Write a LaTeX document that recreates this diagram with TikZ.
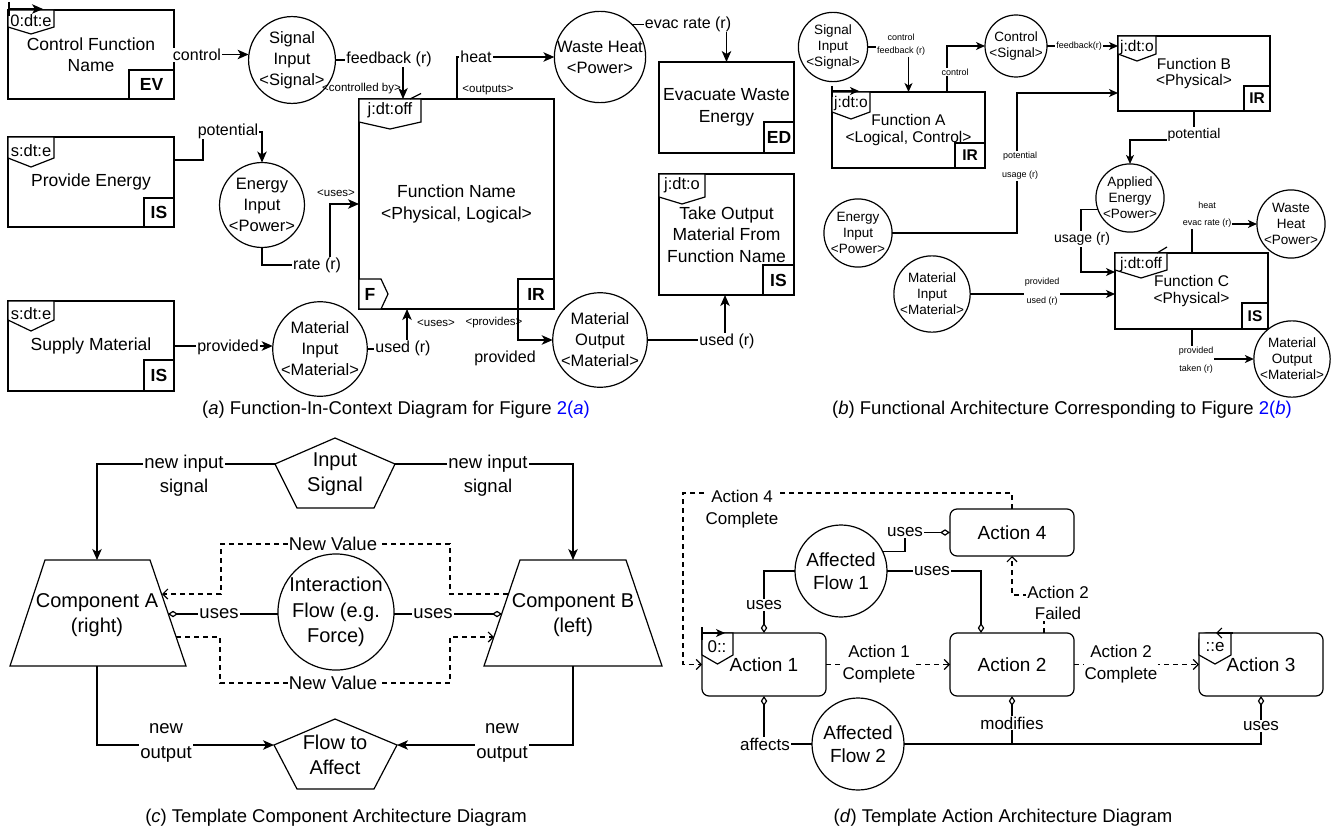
\documentclass[tikz,border=0pt]{standalone}
\usepackage{fontspec}
\setmainfont{Liberation Sans}
\usetikzlibrary{arrows.meta,calc}
\definecolor{lnk}{RGB}{0,0,255}

% font sizes (1pt = one unit of the drawing)
\newcommand\fsBoxA{\fontsize{17.5}{21.5}\selectfont}
\newcommand\fsCircA{\fontsize{16.5}{21}\selectfont}
\newcommand\fsLblA{\fontsize{16}{19}\selectfont}
\newcommand\fsTinyA{\fontsize{11.5}{13}\selectfont}
\newcommand\fsBoxB{\fontsize{15.5}{16.5}\selectfont}
\newcommand\fsCircB{\fontsize{13.5}{16}\selectfont}
\newcommand\fsLblB{\fontsize{14}{16}\selectfont}
\newcommand\fsTinyB{\fontsize{9}{11}\selectfont}
\newcommand\fsNodeC{\fontsize{20}{25.5}\selectfont}
\newcommand\fsLblC{\fontsize{18.5}{24.5}\selectfont}
\newcommand\fsNodeD{\fontsize{19}{23.5}\selectfont}
\newcommand\fsLblD{\fontsize{17}{22}\selectfont}
\newcommand\fsCap{\fontsize{18.5}{22}\selectfont}

% pentagon tab in the top left corner of a block: x, y, width, side, tip depth
\newcommand\tabmark[5]{\draw[ln, fill=white] (#1,#2) -- ++(#3,0) -- ++(0,#4)
  -- ++(-#3/2,#5-#4) -- ++(-#3/2,#4-#5) -- cycle;}

\tikzset{
  ln/.style={line width=1.2pt},
  arr/.style={ln, -{Stealth[length=11pt,width=9.5pt,inset=3pt]}},
  arrs/.style={ln, -{Stealth[length=9pt,width=8pt,inset=2.5pt]}},
  oarr/.style={ln, dash pattern=on 5pt off 4pt, -{Straight Barb[length=5pt,width=10pt]}},
  dia/.style={ln, -{Diamond[open,length=10pt,width=6.5pt]}},
  idia/.style={ln, {Diamond[open,length=10pt,width=6.5pt]}-},
  fbox/.style={draw, ln, inner sep=0pt, outer sep=0pt, anchor=north west, fill=white, align=center},
  subbox/.style={draw, ln, inner sep=0pt, outer sep=0pt, anchor=south east, font=\fsBoxA\bfseries},
  ccirc/.style={draw, ln, circle, inner sep=0pt, outer sep=0pt, align=center, fill=white},
  abox/.style={draw, ln, rounded corners=7pt, inner sep=0pt, outer sep=0pt, anchor=north west, fill=white},
  tnode/.style={inner sep=0pt, align=center},
  elbl/.style={fill=white, inner sep=1pt, align=center},
}

\begin{document}
\begin{tikzpicture}[x=1pt,y=-1pt]
\useasboundingbox (0,0) rectangle (1332,832);

% ================= (a) function in context =================
\node[fbox, minimum width=166, minimum height=89, font=\fsBoxA] (cf) at (8,10) {Control Function\\Name};
\node[subbox, minimum width=45, minimum height=29] (cfEV) at (cf.south east) {EV};
\tabmark{8}{10}{46}{17}{24}
\node[tnode, font=\fsCircA] (cfT) at (31,21) {0:dt:e};
\draw[ln] (9,2) -- (9,16);
\coordinate (cfS) at (9,9);
\draw[arr] (cfS) -- ++(34,0);

\node[fbox, minimum width=166, minimum height=90, font=\fsBoxA] (pe) at (8,137) {Provide Energy};
\node[subbox, minimum width=30, minimum height=29] (peIS) at (pe.south east) {IS};
\tabmark{8}{137}{46}{21}{30}
\node[tnode, font=\fsCircA] (peT) at (31,151) {s:dt:e};

\node[fbox, minimum width=166, minimum height=90, font=\fsBoxA] (sm) at (8,301) {Supply Material};
\node[subbox, minimum width=30, minimum height=31] (smIS) at (sm.south east) {IS};
\tabmark{8}{301}{46}{19}{30}
\node[tnode, font=\fsCircA] (smT) at (31,314) {s:dt:e};

\node[fbox, minimum width=195, minimum height=210, font=\fsBoxA] (fn) at (359,99) {Function Name\\<Physical, Logical>};
\node[subbox, minimum width=36, minimum height=30] (fnIR) at (fn.south east) {IR};
\tabmark{359}{99}{62}{23}{30}
\node[tnode, font=\fsCircA] (fnT) at (390,110) {j:dt:off};
\draw[ln] (421,93.5) -- (410,99);
\draw[ln, fill=white] (359,279) -- (381,279) -- (388,294) -- (381,309) -- (359,309) -- cycle;
\node[tnode, font=\fsBoxA\bfseries] (fnF) at (370,294) {F};

\node[fbox, minimum width=135, minimum height=91, font=\fsBoxA] (ev) at (659,62) {Evacuate Waste\\Energy};
\node[subbox, minimum width=30, minimum height=31] (evED) at (ev.south east) {ED};

\node[fbox, minimum width=135, minimum height=121, font=\fsBoxA] (to) at (659,174) {Take Output\\Material From\\Function Name};
\node[subbox, minimum width=31, minimum height=30] (toIS) at (to.south east) {IS};
\tabmark{659}{174}{46}{23}{30}
\node[tnode, font=\fsCircA] (toT) at (682,185) {j:dt:o};

\node[ccirc, minimum size=74, font=\fsCircA] (si) at (292,60) {Signal\\Input\\<Signal>};
\node[ccirc, minimum size=90, font=\fsCircA] (wh) at (600,57) {Waste Heat\\<Power>};
\node[ccirc, minimum size=75, font=\fsCircA] (ei) at (262,205) {Energy\\Input\\<Power>};
\node[ccirc, minimum size=76, font=\fsCircA] (mi) at (320,349) {Material\\Input\\<Material>};
\node[ccirc, minimum size=90, font=\fsCircA] (mo) at (600,340) {Material\\Output\\<Material>};

\draw[arr] (cf.east) -- (cf.east -| si.west);
\draw[arr] (si.east) -| ($(fn.north west)+(44,0)$);
\draw[arr] ($(fn.north west)+(98,0)$) |- (wh.west);
\draw[arr] (wh.45) -| (ev.north);
\draw[arr] ($(pe.north east)+(0,23)$) -- ++(29,0) -- ++(0,-28) -| (ei.north);
\draw[arr] (ei.south) |- (330,265) |- (fn.west);
\draw[arr] (sm.east) -- (sm.east -| mi.west);
\draw[arr] (mi.east) -| ($(fn.south west)+(48,0)$);
\draw[arr] ($(fn.south west)+(159,0)$) |- (mo.west);
\draw[arr] (mo.east) -| ($(to.south west)+(66,0)$);

\node[elbl, font=\fsLblA] (lControl) at (197,55) {control};
\node[elbl, font=\fsLblA] (lFeedback) at (389,59) {feedback (r)};
\node[tnode, font=\fsTinyA, anchor=east] (lCtrlBy) at (401,89) {<controlled by>};
\node[elbl, font=\fsLblA] (lHeat) at (476,57) {heat};
\node[tnode, font=\fsTinyA] (lOutputs) at (488,90) {<outputs>};
\node[elbl, font=\fsLblA] (lEvac) at (688,24) {evac rate (r)};
\node[elbl, font=\fsLblA] (lPot) at (228,131) {potential};
\node[elbl, font=\fsLblA] (lRate) at (317,265) {rate (r)};
\node[tnode, font=\fsTinyA] (lUsesA) at (336,193) {<uses>};
\node[elbl, font=\fsLblA] (lProv) at (228,347) {provided};
\node[elbl, font=\fsLblA] (lUsed) at (403,348) {used (r)};
\node[tnode, font=\fsTinyA] (lUsesB) at (436,323) {<uses>};
\node[tnode, font=\fsTinyA] (lProvides) at (494,323) {<provides>};
\node[tnode, font=\fsLblA] (lProvOut) at (505,358) {provided};
\node[elbl, font=\fsLblA] (lUsedOut) at (727,341) {used (r)};

\node[tnode, font=\fsCap] (capA) at (396,410) {(\textit{a}) Function-In-Context Diagram for Figure \textcolor{lnk}{2(\textit{a})}};

% ================= (b) functional architecture =================
\node[ccirc, minimum size=64, font=\fsCircB] (si2) at (833,47) {Signal\\Input\\<Signal>};
\node[fbox, minimum width=153, minimum height=76, font=\fsBoxB] (fa) at (832,92) {Function A\\<Logical, Control>};
\node[subbox, font=\fsBoxB\bfseries, minimum width=30, minimum height=25] (faIR) at (fa.south east) {IR};
\tabmark{832}{92}{38}{20}{27}
\node[tnode, font=\fsBoxB] (faT) at (851,103) {j:dt:o};
\draw[ln] (832,86) -- (832,97);
\coordinate (faS) at (832,91);
\draw[arrs] (faS) -- ++(27,0);

\node[ccirc, minimum size=62, font=\fsCircB] (cs) at (1016,46) {Control\\<Signal>};
\node[fbox, minimum width=152, minimum height=75, font=\fsBoxB] (fb) at (1118,36) {Function B\\<Physical>};
\node[subbox, font=\fsBoxB\bfseries, minimum width=26, minimum height=25] (fbIR) at (fb.south east) {IR};
\tabmark{1118}{36}{38}{18}{25}
\node[tnode, font=\fsBoxB] (fbT) at (1137,47) {j:dt:o};

\node[ccirc, minimum size=64, font=\fsCircB] (ei2) at (858,233) {Energy\\Input\\<Power>};
\node[ccirc, minimum size=64, font=\fsCircB] (ae) at (1130,198) {Applied\\Energy\\<Power>};
\node[ccirc, minimum size=74, font=\fsCircB] (mi2) at (932,294) {Material\\Input\\<Material>};
\node[fbox, minimum width=153, minimum height=76, font=\fsBoxB] (fc) at (1115,253) {Function C\\<Physical>};
\node[subbox, font=\fsBoxB\bfseries, minimum width=26, minimum height=26] (fcIS) at (fc.south east) {IS};
\tabmark{1115}{253}{52}{17}{25}
\node[tnode, font=\fsBoxB] (fcT) at (1141,264) {j:dt:off};
\draw[ln] (1167,247) -- (1157,253);
\node[ccirc, minimum size=65, font=\fsCircB] (wh2) at (1291,224) {Waste\\Heat\\<Power>};
\node[ccirc, minimum size=64, font=\fsCircB] (mo2) at (1292,359) {Material\\Output\\<Material>};

\draw[arrs] (si2.east) -| (fa.north);
\draw[arrs] ($(fa.north west)+(115,0)$) |- (cs.west);
\draw[arrs] (cs.east) -- (cs.east -| fb.west);
\coordinate (pu) at (1017,93);
\draw[arrs] (ei2.east) -| (pu) -- (pu -| fb.west);
\draw[arrs] (fb.south) -- ++(0,29) -| (ae.north);
\draw[arrs] (ae.200) -| (1081,272) -- ($(fc.north west)+(0,19)$);
\draw[arrs] (mi2.east) -- (mi2.east -| fc.west);
\draw[arrs] ($(fc.north west)+(77,0)$) |- (wh2.west);
\draw[arrs] ($(fc.south west)+(77,0)$) |- (mo2.west);

\node[elbl, font=\fontsize{9}{13}\selectfont] (lCtlFb) at (901,45) {control\\feedback (r)};
\node[elbl, font=\fsTinyB] (lCtl) at (955,72) {control};
\node[elbl, font=\fsTinyB] (lFbB) at (1079,46) {feedback(r)};
\node[elbl, font=\fontsize{9}{19}\selectfont] (lPotUse) at (1020,166) {potential\\usage (r)};
\node[elbl, font=\fsLblB] (lPotB) at (1194,135) {potential};
\node[elbl, font=\fsLblB] (lUsage) at (1082,239) {usage (r)};
\node[elbl, font=\fontsize{9}{19}\selectfont] (lProvUsed) at (1042,292) {provided\\used (r)};
\node[elbl, font=\fontsize{9}{17}\selectfont] (lHeatEvac) at (1207,215) {heat\\evac rate (r)};
\node[elbl, font=\fontsize{9}{18}\selectfont] (lProvTaken) at (1196,360) {provided\\taken (r)};

\node[tnode, font=\fsCap] (capB) at (1062,410) {(\textit{b}) Functional Architecture Corresponding to Figure \textcolor{lnk}{2(\textit{b})}};

% ================= (c) component architecture =================
\draw[ln] (335,438) -- (395,464) -- (374,508) -- (297,508) -- (275,464) -- cycle;
\coordinate (isgL) at (275,464);
\coordinate (isgR) at (395,464);
\node[tnode, font=\fsNodeC] (isg) at (335,474) {Input\\Signal};

\draw[ln] (45,560) -- (150,560) -- (186,666) -- (10,666) -- cycle;
\node[tnode, font=\fsNodeC] (ca) at (97,615) {Component A\\(right)};
\coordinate (caT) at (97,560);
\coordinate (caB) at (97,666);
\coordinate (caU) at (168,614);
\coordinate (caN1) at (162,594);
\coordinate (caN2) at (176,637);

\draw[ln] (520,560) -- (626,560) -- (662,666) -- (484,666) -- cycle;
\node[tnode, font=\fsNodeC] (cb) at (573,615) {Component B\\(left)};
\coordinate (cbT) at (573,560);
\coordinate (cbB) at (573,666);
\coordinate (cbU) at (502,614);
\coordinate (cbN1) at (508,594);
\coordinate (cbN2) at (494,637);

\node[ccirc, minimum size=112, font=\fsNodeC] (ifl) at (336,612) {Interaction\\Flow (e.g.\\Force)};

\draw[ln] (335,719) -- (397,745) -- (374,789) -- (297,789) -- (274,745) -- cycle;
\coordinate (faL) at (274,745);
\coordinate (faR) at (397,745);
\node[tnode, font=\fsNodeC] (fta) at (335,755) {Flow to\\Affect};

\draw[arr] (isgL) -| (caT);
\draw[arr] (isgR) -| (cbT);
\draw[idia] (caU) -- (caU -| ifl.west);
\draw[dia] (cbU -| ifl.east) -- (cbU);
\draw[oarr] (cbN1) -- (450,594) -- (450,544) -- (221,544) -- (221,594) -- (caN1);
\draw[oarr] (caN2) -- (220,637) -- (220,683) -- (450,683) -- (450,637) -- (cbN2);
\draw[arr] (caB) |- (faL);
\draw[arr] (cbB) |- (faR);

\node[elbl, font=\fsLblC] (lNiA) at (184,464) {new input};
\node[tnode, font=\fsLblC] (lSigA) at (184,488) {signal};
\node[elbl, font=\fsLblC] (lNiB) at (488,464) {new input};
\node[tnode, font=\fsLblC] (lSigB) at (488,488) {signal};
\node[elbl, font=\fsLblC] (lUsesCA) at (219,614) {uses};
\node[elbl, font=\fsLblC] (lUsesCB) at (433,614) {uses};
\node[elbl, font=\fsLblC] (lNvTop) at (333,544) {New Value};
\node[elbl, font=\fsLblC] (lNvBot) at (333,683) {New Value};
\node[elbl, font=\fsLblC] (lNoA) at (166,743) {new\\output};
\node[elbl, font=\fsLblC] (lNoB) at (502,743) {new\\output};

\node[tnode, font=\fsCap] (capC) at (336,818) {(\textit{c}) Template Component Architecture Diagram};

% ================= (d) action architecture =================
\node[abox, minimum width=124, minimum height=63, font=\fsNodeD] (a1) at (702,633) {Action 1};
\node[abox, minimum width=124, minimum height=63, font=\fsNodeD] (a2) at (950,633) {Action 2};
\node[abox, minimum width=124, minimum height=63, font=\fsNodeD] (a3) at (1199,633) {Action 3};
\node[abox, minimum width=124, minimum height=47, font=\fsNodeD] (a4) at (950,509) {Action 4};

\tabmark{702}{633}{31}{22}{31}
\node[tnode, font=\fsLblD] (a1T) at (717,647) {0::};
\draw[ln] (702,627) -- (702,640);
\coordinate (a1S) at (702,633);
\draw[arrs] (a1S) -- ++(23,0);

\tabmark{1199}{633}{32}{22}{31}
\node[tnode, font=\fsLblD] (a3T) at (1215,647) {::e};
\coordinate (a3E) at (1233,633);
\draw[ln, -{Straight Barb[length=5pt,width=10pt]}] (a3E) -- ++(-17,0);

\node[ccirc, minimum size=92, font=\fsNodeD] (af1) at (841,571) {Affected\\Flow 1};
\node[ccirc, minimum size=92, font=\fsNodeD] (af2) at (858,744) {Affected\\Flow 2};

\draw[dia] (af1.25) -| (905,532.5) -- (a4.west);
\draw[dia] (af1.east) -| ($(a2.north west)+(31,0)$);
\draw[dia] (af1.west) -| (a1.north);
\draw[oarr] ($(a2.north west)+(94,0)$) -- ++(0,-38) -| (a4.south);
\draw[oarr] (a4.north) -- ++(0,-16) -| (683,664.5) -- (a1.west);
\draw[oarr] (a1.east) -- (a2.west);
\draw[oarr] (a2.east) -- (a3.west);
\draw[idia] (a1.south) |- (af2.west);
\draw[dia] (af2.east) -| ($(a3.south west)+(62,0)$);
\draw[idia] (a2.south) -- (a2.south |- af2.east);

\node[elbl, font=\fsLblD] (lUsesD4) at (905,532) {uses};
\node[elbl, font=\fsLblD] (lUsesD2) at (932,571) {uses};
\node[elbl, font=\fsLblD] (lUsesD1) at (764,605) {uses};
\node[elbl, font=\fontsize{17}{21}\selectfont] (lFailed) at (1058,603) {Action 2\\Failed};
\node[elbl, font=\fsLblD] (lA4C) at (742,509) {Action 4\\Complete};
\node[elbl, font=\fsLblD] (lA1C) at (879,664) {Action 1\\Complete};
\node[elbl, font=\fsLblD] (lA2C) at (1121,664) {Action 2\\Complete};
\node[elbl, font=\fsLblD] (lAffects) at (765,744) {affects};
\node[elbl, font=\fsLblD] (lModifies) at (1012,723) {modifies};
\node[elbl, font=\fsLblD] (lUsesD3) at (1261,726) {uses};

\node[tnode, font=\fsCap] (capD) at (1003,818) {(\textit{d}) Template Action Architecture Diagram};
\end{tikzpicture}
\end{document}
